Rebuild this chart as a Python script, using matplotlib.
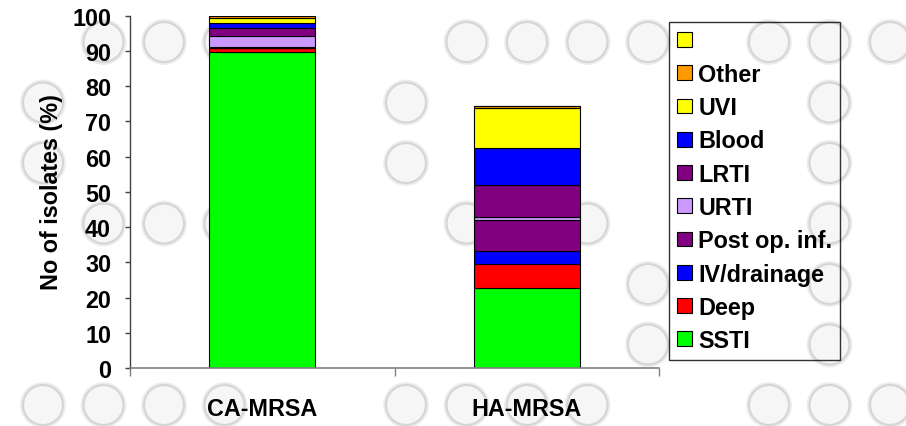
import matplotlib
matplotlib.use("Agg")
import matplotlib.pyplot as plt
from matplotlib.patches import Circle
from matplotlib.ticker import FixedLocator

plt.rcParams["font.family"] = ["Liberation Sans", "DejaVu Sans"]
plt.rcParams["font.weight"] = "bold"

# data (percent of isolates)
groups = ["CA-MRSA", "HA-MRSA"]
series = ["SSTI", "Deep", "IV/drainage", "Post op. inf.", "URTI", "LRTI", "Blood", "UVI", "Other", ""]
ssti = [89.6, 22.6]
deep = [1.1, 6.9]
iv_drainage = [0.2, 3.6]
post_op = [0.3, 9.0]
urti = [3.1, 0.7]
lrti = [2.2, 9.2]
blood = [1.3, 10.4]
uvi = [1.5, 11.3]
other = [0.7, 0.6]
unlabeled = [0.0, 0.0]
colors = ["#00ff00", "#ff0000", "#0000ff", "#800080", "#cc99ff",
          "#800080", "#0000ff", "#ffff00", "#ff9900", "#ffff00"]
y_ticks = list(range(0, 101, 10))

# background watermark circles (grid column, grid row)
circle_cells = [
    (1, 0), (2, 0), (3, 0), (4, 0), (7, 0), (8, 0), (9, 0), (10, 0), (12, 0), (13, 0), (14, 0),
    (0, 1), (6, 1), (13, 1),
    (0, 2), (6, 2), (13, 2),
    (1, 3), (2, 3), (3, 3), (4, 3), (7, 3), (8, 3), (9, 3), (13, 3),
    (10, 4), (13, 4),
    (10, 5), (13, 5),
    (0, 6), (1, 6), (2, 6), (3, 6), (6, 6), (7, 6), (8, 6), (9, 6), (12, 6), (13, 6), (14, 6),
]

FS = 16.8
W, H = 906, 427
fig = plt.figure(figsize=(W / 100, H / 100), dpi=100)
fig.patch.set_facecolor("white")

bg = fig.add_axes([0, 0, 1, 1], zorder=0)
bg.set_xlim(0, W)
bg.set_ylim(H, 0)
bg.axis("off")
for col, row in circle_cells:
    cx, cy = 43 + 60.5 * col, 43 + 60.5 * row
    bg.add_patch(Circle((cx, cy), 21.5, facecolor="none", edgecolor="#ededed", lw=2.0))
    bg.add_patch(Circle((cx, cy), 20, facecolor="#f6f6f6", edgecolor="#d6d6d6", lw=1.6))

ax = fig.add_axes([130 / W, 1 - 369 / H, (659 - 130) / W, (369 - 16.7) / H], zorder=1)
ax.patch.set_alpha(0)

values = [ssti, deep, iv_drainage, post_op, urti, lrti, blood, uvi, other, unlabeled]
x = list(range(len(groups)))
bottom = [0.0] * len(groups)
handles = []
for vals, col, lab in zip(values, colors, series):
    bars = ax.bar(x, vals, width=0.4, bottom=bottom, color=col,
                  edgecolor="black", linewidth=0.8, label=lab)
    handles.append(bars)
    bottom = [b + v for b, v in zip(bottom, vals)]

ax.set_xlim(-0.5, 1.5)
ax.set_ylim(0, 100)
ax.set_yticks(y_ticks)
ax.set_xticks(x)
ax.set_xticklabels(groups)
ax.xaxis.set_minor_locator(FixedLocator([-0.5, 0.5, 1.5]))
ax.tick_params(axis="x", which="major", length=0, pad=21, labelsize=FS)
ax.tick_params(axis="x", which="minor", length=6, width=1, color="#808080", direction="out")
ax.tick_params(axis="y", length=3.6, width=1, color="#404040", pad=10, labelsize=FS)

for side in ("top", "right"):
    ax.spines[side].set_visible(False)
ax.spines["left"].set_color("#404040")
ax.spines["bottom"].set_color("#808080")
ax.spines["left"].set_linewidth(1)
ax.spines["bottom"].set_linewidth(1.2)

fig.text(52 / W, 1 - 192 / H, "No of isolates (%)", rotation=90,
         ha="center", va="center", fontsize=FS, fontweight="bold")

leg = ax.legend(handles[::-1], series[::-1], loc="upper left",
                bbox_to_anchor=(669 / W, 1 - 23 / H), bbox_transform=fig.transFigure,
                frameon=True, fancybox=False, edgecolor="black", facecolor="none",
                prop={"family": "Liberation Sans", "weight": "bold", "size": FS},
                handlelength=0.64, handleheight=0.6, handletextpad=0.28,
                labelspacing=0.44, borderpad=0.33, borderaxespad=0)
leg.get_frame().set_linewidth(1)

fig.savefig("out.png", dpi=100)
